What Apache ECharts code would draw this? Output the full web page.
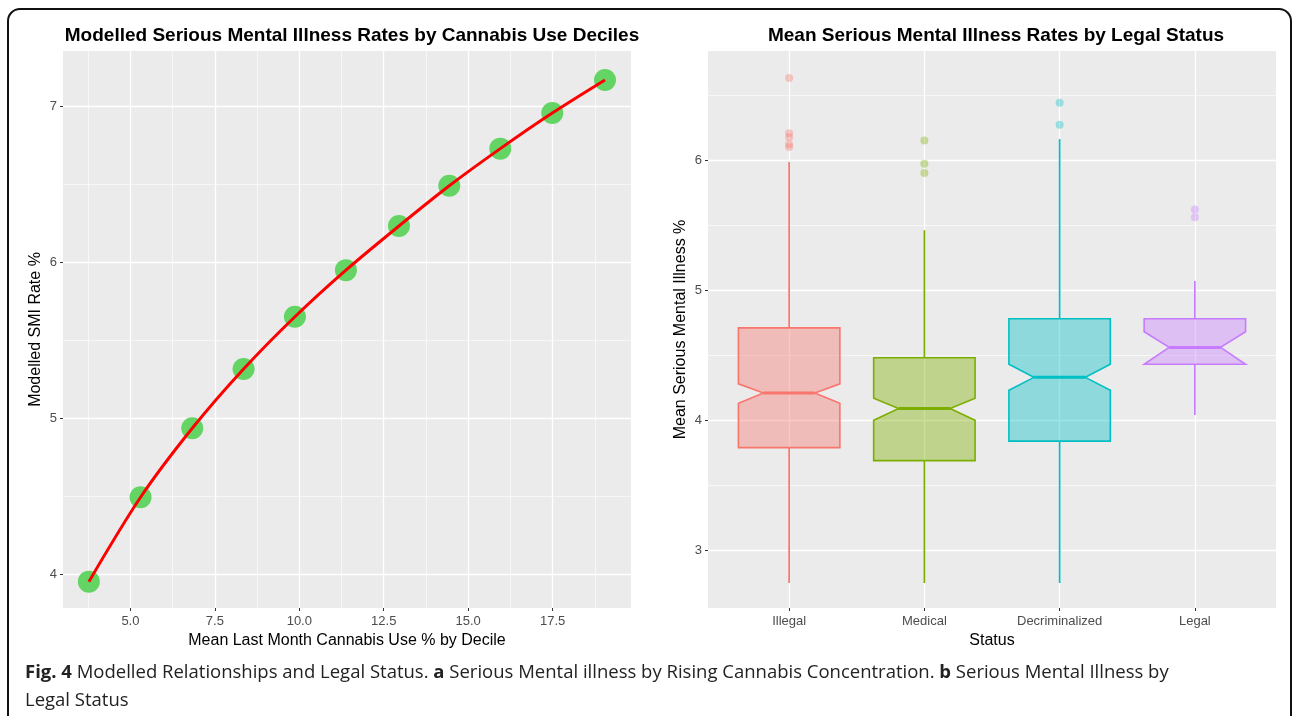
<!DOCTYPE html>
<html>
<head>
<meta charset="utf-8">
<script src="https://cdn.jsdelivr.net/npm/echarts@6/dist/echarts.min.js"></script>
<style>
  html, body { margin: 0; padding: 0; background: #fff; }
  #chart { width: 1292px; height: 716px; }
</style>
</head>
<body>
<div id="chart"></div>
<script>
// panel a: modelled SMI by cannabis use decile
const useDecile = [3.77, 5.30, 6.83, 8.35, 9.87, 11.38, 12.95, 14.44, 15.95, 17.49, 19.05];
const smiRate = [3.951, 4.492, 4.934, 5.314, 5.649, 5.948, 6.231, 6.489, 6.727, 6.955, 7.167];
const xTicksA = [5, 7.5, 10, 12.5, 15, 17.5];
const xMinorA = [3.75, 6.25, 8.75, 11.25, 13.75, 16.25, 18.75];
const yTicksA = [4, 5, 6, 7];
const yMinorA = [4.5, 5.5, 6.5];

// panel b: notched boxplots by legal status
const statuses = ["Illegal", "Medical", "Decriminalized", "Legal"];
const whiskerLow = [2.75, 2.75, 2.75, 4.04];
const q1 = [3.79, 3.69, 3.84, 4.43];
const notchLow = [4.13, 4.0, 4.23, 4.43];
const median = [4.21, 4.09, 4.33, 4.56];
const notchHigh = [4.28, 4.17, 4.43, 4.68];
const q3 = [4.71, 4.48, 4.78, 4.78];
const whiskerHigh = [5.985, 5.46, 6.16, 5.07];
const illegalOut = [6.63, 6.205, 6.175, 6.12, 6.1];
const medicalOut = [6.15, 5.97, 5.9];
const decrimOut = [6.44, 6.27];
const legalOut = [5.62, 5.56];
const yTicksB = [3, 4, 5, 6];
const yMinorB = [3.5, 4.5, 5.5, 6.5];

const status_colors = ["#F8766D", "#7CAE00", "#00BFC4", "#C77CFF"];
const fade = (hex, a) => {
  const n = parseInt(hex.slice(1), 16);
  return `rgba(${n >> 16},${(n >> 8) & 255},${n & 255},${a})`;
};

const chart = echarts.init(document.getElementById("chart"));

const tickLabel = { color: "#4D4D4D", fontSize: 13, fontFamily: "Liberation Sans" };
const axisName = { color: "#000", fontSize: 16, fontFamily: "Liberation Sans" };
const titleText = { fontFamily: "Liberation Sans", fontWeight: "bold", fontSize: 19, color: "#000" };
const majorSplit = { show: true, lineStyle: { color: "#fff", width: 1.3 } };
const minorSplit = { show: true, lineStyle: { color: "#fff", width: 0.6 } };
const tick = { show: true, length: 3, lineStyle: { color: "#333", width: 1 } };

// hidden axis used only for ggplot-style minor grid lines
const minorAxis = (gridIndex, values) => ({
  type: "value",
  gridIndex,
  axisLine: { show: false },
  axisLabel: { show: false, customValues: values },
  axisTick: { show: false, customValues: values },
  splitLine: minorSplit,
});

const boxData = statuses.map((s, i) => [
  i + 1, whiskerLow[i], q1[i], notchLow[i], median[i], notchHigh[i], q3[i], whiskerHigh[i],
]);
const outliers = [illegalOut, medicalOut, decrimOut, legalOut];

const renderBox = (params, api) => {
  const x = api.value(0);
  const col = status_colors[params.dataIndex];
  const hw = 0.375, nw = 0.19;
  const p = (dx, k) => api.coord([x + dx, api.value(k)]);
  const lineStyle = { stroke: col, lineWidth: 1.7 };
  return {
    type: "group",
    children: [
      { type: "line", shape: { x1: p(0, 6)[0], y1: p(0, 6)[1], x2: p(0, 7)[0], y2: p(0, 7)[1] }, style: lineStyle },
      { type: "line", shape: { x1: p(0, 2)[0], y1: p(0, 2)[1], x2: p(0, 1)[0], y2: p(0, 1)[1] }, style: lineStyle },
      {
        type: "polygon",
        shape: {
          points: [
            p(-hw, 6), p(hw, 6), p(hw, 5), p(nw, 4), p(hw, 3), p(hw, 2),
            p(-hw, 2), p(-hw, 3), p(-nw, 4), p(-hw, 5),
          ],
        },
        style: { fill: fade(col, 0.4), stroke: col, lineWidth: 1.6 },
      },
      { type: "line", shape: { x1: p(-nw, 4)[0], y1: p(-nw, 4)[1], x2: p(nw, 4)[0], y2: p(nw, 4)[1] }, style: { stroke: col, lineWidth: 3 } },
    ],
  };
};

chart.setOption({
  backgroundColor: "#fff",
  animation: false,
  title: [
    {
      text: "Modelled Serious Mental Illness Rates by Cannabis Use Deciles",
      left: 347, top: 21, textAlign: "center", textStyle: titleText,
    },
    {
      text: "Mean Serious Mental Illness Rates by Legal Status",
      left: 991, top: 21, textAlign: "center", textStyle: titleText,
    },
  ],
  grid: [
    { left: 63, top: 51, width: 568, height: 557, show: true, backgroundColor: "#EBEBEB", borderWidth: 0 },
    { left: 708, top: 51, width: 568, height: 557, show: true, backgroundColor: "#EBEBEB", borderWidth: 0 },
  ],
  xAxis: [
    {
      type: "value", gridIndex: 0, min: 3.004, max: 19.82,
      name: "Mean Last Month Cannabis Use % by Decile", nameLocation: "middle", nameGap: 22,
      nameTextStyle: axisName,
      axisLine: { show: false },
      axisTick: { ...tick, customValues: xTicksA },
      axisLabel: { ...tickLabel, margin: 7, customValues: xTicksA, formatter: (v) => v.toFixed(1) },
      splitLine: majorSplit,
    },
    { ...minorAxis(0, xMinorA), min: 3.004, max: 19.82 },
    {
      type: "value", gridIndex: 1, min: 0.4, max: 4.6,
      name: "Status", nameLocation: "middle", nameGap: 22, nameTextStyle: axisName,
      axisLine: { show: false },
      axisTick: { ...tick, customValues: [1, 2, 3, 4] },
      axisLabel: { ...tickLabel, margin: 7, customValues: [1, 2, 3, 4], formatter: (v) => statuses[Math.round(v) - 1] },
      splitLine: majorSplit,
    },
  ],
  yAxis: [
    {
      type: "value", gridIndex: 0, min: 3.782, max: 7.353,
      name: "Modelled SMI Rate %", nameLocation: "middle", nameGap: 19, nameTextStyle: axisName,
      axisLine: { show: false },
      axisTick: { ...tick, customValues: yTicksA },
      axisLabel: { ...tickLabel, margin: 6, customValues: yTicksA },
      splitLine: majorSplit,
    },
    { ...minorAxis(0, yMinorA), min: 3.782, max: 7.353 },
    {
      type: "value", gridIndex: 1, min: 2.558, max: 6.837,
      name: "Mean Serious Mental Illness %", nameLocation: "middle", nameGap: 19, nameTextStyle: axisName,
      axisLine: { show: false },
      axisTick: { ...tick, customValues: yTicksB },
      axisLabel: { ...tickLabel, margin: 6, customValues: yTicksB },
      splitLine: majorSplit,
    },
    { ...minorAxis(1, yMinorB), min: 2.558, max: 6.837 },
  ],
  series: [
    {
      type: "scatter", xAxisIndex: 0, yAxisIndex: 0,
      data: useDecile.map((x, i) => [x, smiRate[i]]),
      symbolSize: 22,
      itemStyle: { color: "#64D464", opacity: 1 },
      z: 3,
    },
    {
      type: "line", xAxisIndex: 0, yAxisIndex: 0,
      data: useDecile.map((x, i) => [x, smiRate[i]]),
      smooth: 0.3, showSymbol: false,
      lineStyle: { color: "#FF0000", width: 3 },
      z: 4,
    },
    {
      type: "custom", xAxisIndex: 2, yAxisIndex: 2,
      data: boxData,
      encode: { x: 0, y: [1, 2, 3, 4, 5, 6, 7] },
      renderItem: renderBox,
      z: 3,
    },
    ...outliers.map((vals, i) => ({
      type: "scatter", xAxisIndex: 2, yAxisIndex: 2,
      data: vals.map((v) => [i + 1, v]),
      symbolSize: 8,
      itemStyle: { color: fade(status_colors[i], 0.45) },
      z: 3,
    })),
  ],
  graphic: [
    {
      type: "rect",
      shape: { x: 8, y: 9, width: 1283, height: 740, r: [12, 12, 0, 0] },
      style: { fill: "none", stroke: "#111", lineWidth: 2 },
      z: 100,
    },
    {
      type: "text", left: 25, top: 659,
      style: {
        text: "{b|Fig. 4} Modelled Relationships and Legal Status. {b|a} Serious Mental illness by Rising Cannabis Concentration. {b|b} Serious Mental Illness by\nLegal Status",
        font: "18.5px 'Open Sans'",
        fill: "#222",
        lineHeight: 28,
        rich: { b: { fontWeight: "bold", fontSize: 18.5, fontFamily: "Open Sans", fill: "#222" } },
      },
    },
  ],
});
</script>
</body>
</html>
